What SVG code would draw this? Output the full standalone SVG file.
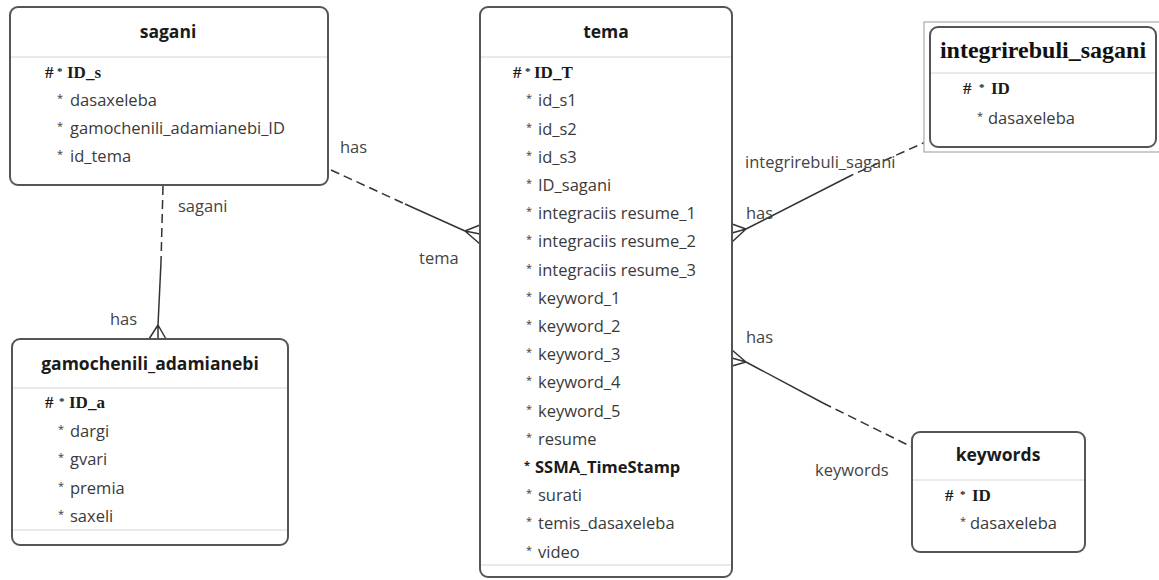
<svg xmlns="http://www.w3.org/2000/svg" width="1159" height="580" viewBox="0 0 1159 580">
<style>
.box{fill:#fff;stroke:#555;stroke-width:2}
.sep{stroke:#d6d6d6;stroke-width:1.2}
.title{font-family:"Open Sans","Noto Sans",sans-serif;font-size:17.5px;font-weight:bold;fill:#1a1a1a;text-anchor:middle}
.stitle{font-family:"Liberation Serif","DejaVu Serif",serif;font-size:24px;font-weight:bold;fill:#111;text-anchor:middle}
.row{font-family:"Open Sans","Noto Sans",sans-serif;font-size:16.5px;fill:#3a3a3a}
.pk{font-family:"Liberation Serif",serif;font-size:17px;font-weight:bold;fill:#1a1a1a}
.bold{font-family:"Open Sans","Noto Sans",sans-serif;font-size:16.5px;font-weight:bold;fill:#1a1a1a}
.st{font-size:11px}
.lbl{font-family:"Open Sans","Noto Sans",sans-serif;font-size:16.5px;fill:#444}
.ln{fill:none;stroke:#333;stroke-width:1.5}
.dash{fill:none;stroke:#333;stroke-width:1.5;stroke-dasharray:9 5}
</style>
<rect width="1159" height="580" fill="#fff"/>

<g id="connectors">
  <path class="dash" d="M163 186 L161 262"/>
  <path class="ln" d="M161 262 L158 325"/>
  <path class="ln" d="M158 325 L149 339 M158 325 L158 339 M158 325 L166 339"/>
  <path class="dash" d="M331 170 L405 204"/>
  <path class="ln" d="M405 204 L465 231"/>
  <path class="ln" d="M465 231 L480 225 M465 231 L480 234 M465 231 L480 244"/>
  <path class="dash" d="M930 140 L852 175"/>
  <path class="ln" d="M852 175 L746 229"/>
  <path class="ln" d="M746 229 L732 224 M746 229 L732 233 M746 229 L732 242"/>
  <path class="ln" d="M746 362 L823 403"/>
  <path class="dash" d="M823 403 L912 447"/>
  <path class="ln" d="M746 362 L732 350 M746 362 L732 358 M746 362 L732 366"/>
  <text class="lbl" x="340" y="153">has</text>
  <text class="lbl" x="419" y="264">tema</text>
  <text class="lbl" x="178" y="212">sagani</text>
  <text class="lbl" x="110" y="325">has</text>
  <text class="lbl" x="745" y="168">integrirebuli_sagani</text>
  <text class="lbl" x="746" y="219">has</text>
  <text class="lbl" x="746" y="343">has</text>
  <text class="lbl" x="815" y="476">keywords</text>
</g>

<g id="sagani">
  <rect class="box" x="10" y="7" width="318" height="178" rx="8"/>
  <line class="sep" x1="11" y1="57" x2="327" y2="57"/>
  <text class="title" x="168" y="38">sagani</text>
  <text class="pk" y="78"><tspan x="45">#</tspan><tspan x="57" class="st" dy="-3">*</tspan><tspan x="67" dy="3">ID_s</tspan></text>
  <text class="row" y="106"><tspan x="57" class="st" dy="-4">*</tspan><tspan x="70" dy="4">dasaxeleba</tspan></text>
  <text class="row" y="134"><tspan x="57" class="st" dy="-4">*</tspan><tspan x="70" dy="4">gamochenili_adamianebi_ID</tspan></text>
  <text class="row" y="162"><tspan x="57" class="st" dy="-4">*</tspan><tspan x="70" dy="4">id_tema</tspan></text>
</g>

<g id="gamochenili_adamianebi">
  <rect class="box" x="12" y="339" width="276" height="206" rx="8"/>
  <line class="sep" x1="13" y1="388" x2="287" y2="388"/>
  <line class="sep" x1="13" y1="530" x2="287" y2="530"/>
  <text class="title" x="150" y="370">gamochenili_adamianebi</text>
  <text class="pk" y="408"><tspan x="45">#</tspan><tspan x="59" class="st" dy="-3">*</tspan><tspan x="69" dy="3">ID_a</tspan></text>
  <text class="row" y="437"><tspan x="58" class="st" dy="-4">*</tspan><tspan x="70" dy="4">dargi</tspan></text>
  <text class="row" y="465"><tspan x="58" class="st" dy="-4">*</tspan><tspan x="70" dy="4">gvari</tspan></text>
  <text class="row" y="494"><tspan x="58" class="st" dy="-4">*</tspan><tspan x="70" dy="4">premia</tspan></text>
  <text class="row" y="522"><tspan x="58" class="st" dy="-4">*</tspan><tspan x="70" dy="4">saxeli</tspan></text>
</g>

<g id="tema">
  <rect class="box" x="480" y="7" width="252" height="570" rx="8"/>
  <line class="sep" x1="481" y1="57" x2="731" y2="57"/>
  <line class="sep" x1="481" y1="565" x2="731" y2="565"/>
  <text class="title" x="606" y="38">tema</text>
  <text class="pk" y="78"><tspan x="513">#</tspan><tspan x="525" class="st" dy="-3">*</tspan><tspan x="534" dy="3">ID_T</tspan></text>
  <text class="row" y="106"><tspan x="526" class="st" dy="-4">*</tspan><tspan x="538" dy="4">id_s1</tspan></text>
  <text class="row" y="134.5"><tspan x="526" class="st" dy="-4">*</tspan><tspan x="538" dy="4">id_s2</tspan></text>
  <text class="row" y="162.5"><tspan x="526" class="st" dy="-4">*</tspan><tspan x="538" dy="4">id_s3</tspan></text>
  <text class="row" y="191"><tspan x="526" class="st" dy="-4">*</tspan><tspan x="538" dy="4">ID_sagani</tspan></text>
  <text class="row" y="219"><tspan x="526" class="st" dy="-4">*</tspan><tspan x="538" dy="4">integraciis resume_1</tspan></text>
  <text class="row" y="247"><tspan x="526" class="st" dy="-4">*</tspan><tspan x="538" dy="4">integraciis resume_2</tspan></text>
  <text class="row" y="275.5"><tspan x="526" class="st" dy="-4">*</tspan><tspan x="538" dy="4">integraciis resume_3</tspan></text>
  <text class="row" y="303.5"><tspan x="526" class="st" dy="-4">*</tspan><tspan x="538" dy="4">keyword_1</tspan></text>
  <text class="row" y="332"><tspan x="526" class="st" dy="-4">*</tspan><tspan x="538" dy="4">keyword_2</tspan></text>
  <text class="row" y="360"><tspan x="526" class="st" dy="-4">*</tspan><tspan x="538" dy="4">keyword_3</tspan></text>
  <text class="row" y="388"><tspan x="526" class="st" dy="-4">*</tspan><tspan x="538" dy="4">keyword_4</tspan></text>
  <text class="row" y="416.5"><tspan x="526" class="st" dy="-4">*</tspan><tspan x="538" dy="4">keyword_5</tspan></text>
  <text class="row" y="444.5"><tspan x="526" class="st" dy="-4">*</tspan><tspan x="538" dy="4">resume</tspan></text>
  <text class="bold" y="473"><tspan x="524" class="st" dy="-4">*</tspan><tspan x="535" dy="4">SSMA_TimeStamp</tspan></text>
  <text class="row" y="501"><tspan x="526" class="st" dy="-4">*</tspan><tspan x="538" dy="4">surati</tspan></text>
  <text class="row" y="529"><tspan x="526" class="st" dy="-4">*</tspan><tspan x="538" dy="4">temis_dasaxeleba</tspan></text>
  <text class="row" y="557.5"><tspan x="526" class="st" dy="-4">*</tspan><tspan x="538" dy="4">video</tspan></text>
</g>

<g id="integrirebuli_sagani">
  <rect x="924" y="22" width="240" height="130" fill="#fff" stroke="#aaa" stroke-width="1.2"/>
  <rect class="box" x="930" y="27" width="226" height="120" rx="8"/>
  <line class="sep" x1="931" y1="73" x2="1155" y2="73"/>
  <text class="stitle" x="1043" y="58">integrirebuli_sagani</text>
  <text class="pk" y="94"><tspan x="963">#</tspan><tspan x="979" class="st" dy="-3">*</tspan><tspan x="991" dy="3">ID</tspan></text>
  <text class="row" y="124"><tspan x="977" class="st" dy="-4">*</tspan><tspan x="988" dy="4">dasaxeleba</tspan></text>
</g>

<g id="keywords">
  <rect class="box" x="912" y="432" width="173" height="120" rx="8"/>
  <line class="sep" x1="913" y1="480" x2="1084" y2="480"/>
  <text class="title" x="998" y="461">keywords</text>
  <text class="pk" y="501"><tspan x="945">#</tspan><tspan x="960" class="st" dy="-3">*</tspan><tspan x="972" dy="3">ID</tspan></text>
  <text class="row" y="529"><tspan x="960" class="st" dy="-4">*</tspan><tspan x="970" dy="4">dasaxeleba</tspan></text>
</g>
</svg>
